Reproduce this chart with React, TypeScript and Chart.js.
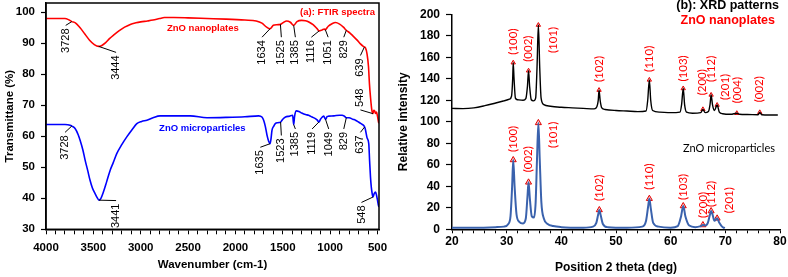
import React, { useEffect, useRef } from 'react';
import { Chart, registerables } from 'chart.js';
Chart.register(...registerables);
Chart.defaults.font.family = '"Liberation Sans", Arial, sans-serif';

// ---------------- FTIR (a) ----------------
const FTIR_NANO_WN = [4000, 3900, 3800, 3760, 3728, 3690, 3640, 3590, 3540, 3490, 3444, 3410, 3370, 3330, 3280, 3230, 3170, 3110, 3050, 3000, 2930, 2870, 2800, 2750, 2650, 2500, 2300, 2100, 1900, 1780, 1720, 1670, 1634, 1600, 1560, 1525, 1490, 1460, 1420, 1385, 1350, 1300, 1260, 1220, 1180, 1140, 1116, 1085, 1060, 1051, 1020, 980, 944, 900, 860, 829, 790, 760, 720, 680, 650, 627, 610, 595, 585, 574, 560, 548, 539, 530, 521, 510, 500, 489, 485];
const FTIR_NANO_T = [98.0, 98.0, 98.0, 97.6, 97.0, 96.6, 95.0, 93.0, 91.0, 89.6, 89.0, 89.3, 90.2, 91.5, 92.8, 94.0, 95.2, 96.1, 96.6, 96.9, 97.2, 97.5, 98.0, 98.3, 98.3, 98.2, 98.0, 97.8, 97.5, 97.2, 96.5, 95.2, 94.7, 95.8, 96.0, 96.1, 96.8, 97.2, 96.8, 95.8, 97.0, 97.4, 97.3, 96.8, 96.0, 94.8, 94.0, 94.3, 94.6, 94.4, 95.5, 96.3, 96.7, 96.2, 95.2, 94.2, 93.3, 92.4, 91.2, 89.8, 89.0, 88.5, 86.5, 82.5, 77.0, 72.7, 68.5, 67.3, 68.4, 68.2, 67.4, 67.8, 66.5, 64.6, 64.2];

const FTIR_MICRO_WN = [4000, 3900, 3800, 3746, 3728, 3693, 3660, 3640, 3610, 3587, 3560, 3535, 3510, 3482, 3460, 3441, 3420, 3394, 3360, 3323, 3290, 3253, 3200, 3147, 3090, 3041, 2990, 2935, 2870, 2795, 2600, 2477, 2300, 2100, 1900, 1755, 1720, 1702, 1685, 1666, 1650, 1635, 1625, 1614, 1595, 1579, 1550, 1523, 1500, 1471, 1430, 1396, 1385, 1375, 1357, 1330, 1300, 1260, 1227, 1190, 1156, 1135, 1119, 1100, 1068, 1049, 1030, 1016, 960, 900, 873, 850, 829, 800, 760, 733, 700, 660, 645, 630, 610, 592, 583, 574, 565, 556, 548, 535, 521, 510, 500, 492, 485];
const FTIR_MICRO_T = [63.8, 63.8, 63.8, 63.6, 63.3, 62.5, 60.5, 58.7, 55.5, 52.3, 49.0, 45.8, 43.3, 41.5, 40.2, 39.4, 40.0, 42.0, 45.3, 49.0, 51.5, 54.4, 57.3, 59.8, 62.2, 64.1, 64.8, 65.2, 66.0, 66.6, 66.6, 66.6, 66.0, 66.1, 66.3, 66.6, 66.2, 65.2, 63.3, 60.3, 58.5, 57.6, 59.0, 61.9, 63.3, 64.1, 64.4, 64.6, 65.5, 66.2, 66.5, 66.8, 63.8, 66.5, 68.2, 68.0, 67.5, 67.0, 66.8, 66.2, 65.7, 65.2, 64.6, 65.6, 66.5, 65.5, 66.4, 66.5, 66.6, 66.8, 66.8, 66.5, 66.0, 66.0, 65.5, 65.2, 64.6, 63.8, 63.5, 62.5, 59.5, 57.6, 52.0, 46.9, 43.5, 41.5, 40.4, 41.5, 42.0, 41.0, 39.4, 38.0, 37.2];

const FTIR_X_LABELS = [4000, 3500, 3000, 2500, 2000, 1500, 1000, 500];
const FTIR_Y_TICKS = [30, 40, 50, 60, 70, 80, 90, 100];

// annotated band positions and where their labels sit (data units)
const FTIR_NANO_PEAKS = [3728, 3444, 1634, 1525, 1385, 1116, 1051, 829, 639, 548];
const FTIR_NANO_LABEL_WN = [3792, 3260, 1719, 1515, 1367, 1198, 1021, 856, 680, 680];
const FTIR_NANO_LABEL_T = [94.8, 86.1, 91.0, 91.0, 91.0, 91.0, 91.0, 91.0, 85.1, 75.4];
const FTIR_NANO_LEAD = ['top', 'top', 'top', 'top', 'top', 'top', 'top', 'top', 'top', 'bottom'];

const FTIR_MICRO_PEAKS = [3728, 3441, 1635, 1523, 1385, 1119, 1049, 829, 637, 548];
const FTIR_MICRO_LABEL_WN = [3799, 3260, 1737, 1515, 1367, 1190, 1015, 856, 680, 669];
const FTIR_MICRO_LABEL_T = [60.3, 38.3, 55.5, 59.3, 61.4, 61.4, 61.4, 61.4, 60.3, 37.7];
const FTIR_MICRO_LEAD = ['top', 'top', 'top', 'top', 'top', 'top', 'top', 'top', 'top', 'top'];

// ---------------- XRD (b) ----------------
const XRD_NANO_2THETA = [20, 22, 24, 26, 28, 29.5, 30.5, 30.9, 31.1, 31.2, 31.35, 31.6, 32, 33, 33.5, 33.8, 34.0, 34.2, 34.5, 34.9, 35.3, 35.55, 35.8, 36.05, 36.3, 36.8, 38, 40, 42, 44, 46, 46.5, 46.75, 46.9, 47.1, 47.4, 48, 50, 52, 54, 55.5, 55.8, 56.1, 56.35, 56.7, 58, 60, 61.7, 62.0, 62.3, 62.55, 62.9, 64, 65.5, 65.9, 66.3, 66.9, 67.2, 67.4, 67.65, 68.0, 68.5, 68.9, 69.5, 71, 72.1, 72.6, 74, 76, 76.3, 76.7, 78, 79.6];
const XRD_NANO_INT = [112.5, 112.3, 113, 115, 117.5, 119.5, 121, 124, 140, 155, 140, 122, 120.5, 120, 121.5, 133, 147.5, 133, 120.5, 119.5, 122, 150, 190, 150, 122, 116, 114.5, 113.5, 113, 112.5, 112, 114, 120, 129.5, 120, 113, 111.5, 110.5, 110, 109.5, 110, 120, 139, 120, 110.5, 109, 108.5, 109, 116, 131, 116, 109, 108, 108.5, 111.6, 108.5, 109.5, 116, 125, 116, 110.5, 115.6, 109, 107.5, 107, 108, 107, 106.8, 106.5, 108.8, 106.5, 106.3, 106.3];

const XRD_MICRO_2THETA = [20, 25, 28, 29.5, 30.3, 30.7, 31.0, 31.2, 31.45, 31.8, 32.3, 33.0, 33.5, 33.8, 34.0, 34.25, 34.6, 35.0, 35.3, 35.55, 35.8, 36.05, 36.35, 36.8, 37.5, 38.5, 40, 44, 45.8, 46.4, 46.75, 46.95, 47.2, 47.6, 48.5, 52, 54.8, 55.5, 55.9, 56.1, 56.35, 56.8, 57.8, 60, 61.3, 61.9, 62.3, 62.7, 63.4, 64.5, 65.5, 65.9, 66.3, 66.8, 67.2, 67.4, 67.7, 68.0, 68.5, 68.9, 69.4, 69.9];
const XRD_MICRO_INT = [1.5, 1.5, 2, 2.5, 5, 12, 40, 64.5, 40, 14, 7, 5.5, 10, 30, 43.7, 28, 12, 11, 25, 65, 99, 65, 25, 10, 5, 3, 2, 1.5, 2.5, 6, 14, 18, 13, 5, 2, 1.5, 2.5, 8, 22, 28.5, 20, 6, 2.5, 1.5, 3, 12, 21.7, 12, 3.5, 2, 3, 4, 3.5, 6, 14, 17, 13, 8, 10.2, 6, 2.5, 1];

const XRD_NANO_PEAK_2THETA = [31.2, 34.0, 35.8, 46.9, 56.1, 62.3, 65.9, 67.4, 68.5, 72.1, 76.3];
const XRD_NANO_PEAK_INT = [155, 147.5, 190, 129.5, 139, 131, 111.6, 125, 115.6, 108, 108.8];
const XRD_NANO_HKL = ['(100)', '(002)', '(101)', '(102)', '(110)', '(103)', '(200)', '(112)', '(201)', '(004)', '(002)'];

const XRD_MICRO_PEAK_2THETA = [31.2, 34.0, 35.8, 46.95, 56.1, 62.3, 65.9, 67.4, 68.5];
const XRD_MICRO_PEAK_INT = [64.5, 43.7, 99, 18, 28.5, 21.7, 4, 17, 10.2];
const XRD_MICRO_HKL = ['(100)', '(002)', '(101)', '(102)', '(110)', '(103)', '(200)', '(112)', '(201)'];

const XRD_X_LABELS = [20, 30, 40, 50, 60, 70, 80];

// label placement (pixel shift from the peak marker): horizontal shift and gap above marker
const NANO_LABEL_DX = [0, 0, 15, 0, 0, 0, -1, 0, 8, 0, 0];
const NANO_LABEL_GAP = [8, 9, -28, 8, 8, 7, 14, 13, 5, 10, 10];
const MICRO_LABEL_DX = [0, 0, 15, 0, 0, 0, 0, 0, 12];
const MICRO_LABEL_GAP = [8, 10, -25, 9, 9, 6, 7, 4, 5];

const toXY = (xs: number[], ys: number[]) => xs.map((x, i) => ({ x, y: ys[i] }));

function interp(xs: number[], ys: number[], v: number) {
  for (let i = 0; i < xs.length - 1; i++) {
    const a = xs[i], b = xs[i + 1];
    if ((v <= a && v >= b) || (v >= a && v <= b)) {
      const t = (v - a) / (b - a);
      return ys[i] + t * (ys[i + 1] - ys[i]);
    }
  }
  return ys[ys.length - 1];
}

const ftirPlugin = {
  id: 'ftirDecor',
  afterDatasetsDraw(chart: any) {
    const { ctx, chartArea, scales } = chart;
    const x = scales.x, y = scales.y;
    ctx.save();
    ctx.strokeStyle = '#000';
    ctx.lineWidth = 1.5;
    ctx.strokeRect(chartArea.left, chartArea.top, chartArea.right - chartArea.left, chartArea.bottom - chartArea.top);

    const drawSet = (peaks: number[], lwn: number[], lt: number[], lead: string[], wns: number[], ts: number[]) => {
      ctx.font = '11px "Liberation Sans", Arial, sans-serif';
      peaks.forEach((p, i) => {
        const txt = String(p);
        const px = x.getPixelForValue(p);
        const py = y.getPixelForValue(interp(wns, ts, p));
        const ax = x.getPixelForValue(lwn[i]);
        const ay = y.getPixelForValue(lt[i]);
        const w = ctx.measureText(txt).width;
        const ey = lead[i] === 'bottom' ? ay + w + 3 : ay - 3;
        ctx.beginPath();
        ctx.moveTo(px, py);
        ctx.lineTo(ax, ey);
        ctx.strokeStyle = '#000';
        ctx.lineWidth = 1;
        ctx.stroke();
        ctx.save();
        ctx.translate(ax, ay);
        ctx.rotate(-Math.PI / 2);
        ctx.textAlign = 'right';
        ctx.textBaseline = 'middle';
        ctx.fillStyle = '#000';
        ctx.fillText(txt, 0, 0);
        ctx.restore();
      });
    };
    drawSet(FTIR_NANO_PEAKS, FTIR_NANO_LABEL_WN, FTIR_NANO_LABEL_T, FTIR_NANO_LEAD, FTIR_NANO_WN, FTIR_NANO_T);
    drawSet(FTIR_MICRO_PEAKS, FTIR_MICRO_LABEL_WN, FTIR_MICRO_LABEL_T, FTIR_MICRO_LEAD, FTIR_MICRO_WN, FTIR_MICRO_T);

    ctx.font = 'bold 9.5px "Liberation Sans", Arial, sans-serif';
    ctx.textBaseline = 'middle';
    ctx.textAlign = 'center';
    ctx.fillStyle = '#ff0000';
    ctx.fillText('ZnO nanoplates', x.getPixelForValue(2344), y.getPixelForValue(94.8));
    ctx.fillStyle = '#0000ff';
    ctx.fillText('ZnO microparticles', x.getPixelForValue(2349), y.getPixelForValue(62.5));
    ctx.fillStyle = '#ff0000';
    ctx.textAlign = 'right';
    ctx.fillText('(a): FTIR spectra', chartArea.right - 4, y.getPixelForValue(100.1));
    ctx.restore();
  },
};

const xrdPlugin = {
  id: 'xrdDecor',
  afterDatasetsDraw(chart: any) {
    const { ctx, chartArea, scales } = chart;
    const x = scales.x, y = scales.y;
    ctx.save();
    const drawLabels = (pos: number[], ints: number[], hkl: string[], dx: number[], gap: number[]) => {
      ctx.font = '11.5px Lato, "Open Sans", sans-serif';
      ctx.fillStyle = '#ff0000';
      pos.forEach((p, i) => {
        const px = x.getPixelForValue(p) + dx[i];
        const py = y.getPixelForValue(ints[i]) - gap[i];
        ctx.save();
        ctx.translate(px, py);
        ctx.rotate(-Math.PI / 2);
        ctx.textAlign = 'left';
        ctx.textBaseline = 'middle';
        ctx.fillText(hkl[i], 0, 0);
        ctx.restore();
      });
    };
    drawLabels(XRD_NANO_PEAK_2THETA, XRD_NANO_PEAK_INT, XRD_NANO_HKL, NANO_LABEL_DX, NANO_LABEL_GAP);
    drawLabels(XRD_MICRO_PEAK_2THETA, XRD_MICRO_PEAK_INT, XRD_MICRO_HKL, MICRO_LABEL_DX, MICRO_LABEL_GAP);

    ctx.textAlign = 'right';
    ctx.textBaseline = 'middle';
    ctx.font = 'bold 12.5px "Liberation Sans", Arial, sans-serif';
    ctx.fillStyle = '#000';
    ctx.fillText('(b): XRD patterns', chartArea.right - 1, y.getPixelForValue(207.7));
    ctx.fillStyle = '#ff0000';
    ctx.fillText('ZnO nanoplates', chartArea.right - 5, y.getPixelForValue(194));
    ctx.fillStyle = '#000';
    ctx.font = '11px Lato, "Open Sans", sans-serif';
    ctx.fillText('ZnO microparticles', chartArea.right - 5, y.getPixelForValue(75.3));
    ctx.restore();
  },
};

function ftirConfig(): any {
  const minor: number[] = [];
  for (let v = 500; v <= 4000; v += 100) minor.push(v);
  return {
    type: 'line',
    data: {
      datasets: [
        { label: 'ZnO nanoplates', data: toXY(FTIR_NANO_WN, FTIR_NANO_T), borderColor: '#ff0000', borderWidth: 1.6, pointRadius: 0, cubicInterpolationMode: 'monotone', fill: false },
        { label: 'ZnO microparticles', data: toXY(FTIR_MICRO_WN, FTIR_MICRO_T), borderColor: '#0000ff', borderWidth: 1.6, pointRadius: 0, cubicInterpolationMode: 'monotone', fill: false },
      ],
    },
    options: {
      responsive: false,
      animation: false,
      events: [],
      layout: { padding: { left: 0, right: 11, top: 3, bottom: 0 } },
      plugins: { legend: { display: false }, tooltip: { enabled: false } },
      scales: {
        x: {
          type: 'linear', reverse: true, min: 484, max: 4000,
          afterBuildTicks: (s: any) => { s.ticks = minor.map((v) => ({ value: v })); },
          afterFit: (s: any) => { s.height = 47.7; s.paddingLeft = 0; s.paddingRight = 0; },
          ticks: { autoSkip: false, maxRotation: 0, color: '#000', padding: 7, font: { size: 11.5, weight: 'bold' },
            callback: (v: number) => (FTIR_X_LABELS.includes(v) ? String(v) : '') },
          grid: { drawOnChartArea: false, tickLength: 5, tickColor: '#000', tickWidth: 1 },
          border: { color: '#000', width: 1.5 },
          title: { display: true, text: 'Wavenumber (cm-1)', color: '#000', font: { size: 11.5, weight: 'bold' }, padding: { top: 0, bottom: 5 } },
        },
        y: {
          type: 'linear', min: 30, max: 103,
          afterBuildTicks: (s: any) => { s.ticks = FTIR_Y_TICKS.map((v) => ({ value: v })); },
          afterFit: (s: any) => { s.width = 46; s.paddingTop = 0; s.paddingBottom = 0; },
          ticks: { color: '#000', padding: 6, font: { size: 11.5, weight: 'bold' } },
          grid: { drawOnChartArea: false, tickLength: 5, tickColor: '#000', tickWidth: 1.2 },
          border: { color: '#000', width: 1.5 },
          title: { display: true, text: 'Transmittane (%)', color: '#000', font: { size: 11.5, weight: 'bold' }, padding: { top: 3, bottom: 0 } },
        },
      },
    },
    plugins: [ftirPlugin],
  };
}

function xrdConfig(): any {
  const minor: number[] = [];
  for (let v = 20; v <= 80; v += 2) minor.push(v);
  const markerBase = { showLine: false, borderWidth: 0, pointStyle: 'triangle', pointBorderColor: '#e00000', pointBackgroundColor: 'rgba(255,140,140,0.55)', pointBorderWidth: 1 };
  return {
    type: 'line',
    data: {
      datasets: [
        { label: 'ZnO nanoplates', data: toXY(XRD_NANO_2THETA, XRD_NANO_INT), borderColor: '#000', borderWidth: 1.4, pointRadius: 0, cubicInterpolationMode: 'monotone', fill: false },
        { label: 'ZnO microparticles', data: toXY(XRD_MICRO_2THETA, XRD_MICRO_INT), borderColor: '#3a62ad', borderWidth: 2, pointRadius: 0, cubicInterpolationMode: 'monotone', fill: false },
        { ...markerBase, label: 'nano peaks', data: toXY(XRD_NANO_PEAK_2THETA, XRD_NANO_PEAK_INT), pointRadius: 2.5 },
        { ...markerBase, label: 'micro peaks', data: toXY(XRD_MICRO_PEAK_2THETA, XRD_MICRO_PEAK_INT), pointRadius: 3.5 },
      ],
    },
    options: {
      responsive: false,
      animation: false,
      events: [],
      layout: { padding: { left: 0, right: 8, top: 14.3, bottom: 0 } },
      plugins: { legend: { display: false }, tooltip: { enabled: false } },
      scales: {
        x: {
          type: 'linear', min: 20, max: 80,
          afterBuildTicks: (s: any) => { s.ticks = minor.map((v) => ({ value: v })); },
          afterFit: (s: any) => { s.height = 47.7; s.paddingLeft = 0; s.paddingRight = 0; },
          ticks: { autoSkip: false, maxRotation: 0, color: '#000', padding: 1, font: { size: 12, weight: 'bold' },
            callback: (v: number) => (XRD_X_LABELS.includes(v) ? String(v) : '') },
          grid: { drawOnChartArea: false, tickLength: 4, tickColor: '#000', tickWidth: 1 },
          border: { color: '#000', width: 1.5 },
          title: { display: true, text: 'Position 2 theta (deg)', color: '#000', font: { size: 12, weight: 'bold' }, padding: { top: 0, bottom: 2 } },
        },
        y: {
          type: 'linear', min: 0, max: 200,
          ticks: { stepSize: 20, color: '#000', padding: 6, font: { size: 12, weight: 'bold' } },
          afterFit: (s: any) => { s.width = 62; s.paddingTop = 0; s.paddingBottom = 0; },
          grid: { drawOnChartArea: false, tickLength: 6, tickColor: '#000', tickWidth: 1.2 },
          border: { color: '#000', width: 1.5 },
          title: { display: true, text: 'Relative intensity', color: '#000', font: { size: 12, weight: 'bold' }, padding: { top: 6, bottom: 0 } },
        },
      },
    },
    plugins: [xrdPlugin],
  };
}

export default function App() {
  const leftRef = useRef<HTMLCanvasElement>(null);
  const rightRef = useRef<HTMLCanvasElement>(null);
  useEffect(() => {
    const c1 = new Chart(leftRef.current as HTMLCanvasElement, ftirConfig());
    const c2 = new Chart(rightRef.current as HTMLCanvasElement, xrdConfig());
    return () => { c1.destroy(); c2.destroy(); };
  }, []);
  return (
    <div style={{ position: 'fixed', left: 0, top: 0, width: 788, height: 277, background: '#fff' }}>
      <canvas ref={leftRef} width={390} height={277} style={{ position: 'absolute', left: 0, top: 0, width: 390, height: 277 }} />
      <canvas ref={rightRef} width={398} height={277} style={{ position: 'absolute', left: 390, top: 0, width: 398, height: 277 }} />
    </div>
  );
}
